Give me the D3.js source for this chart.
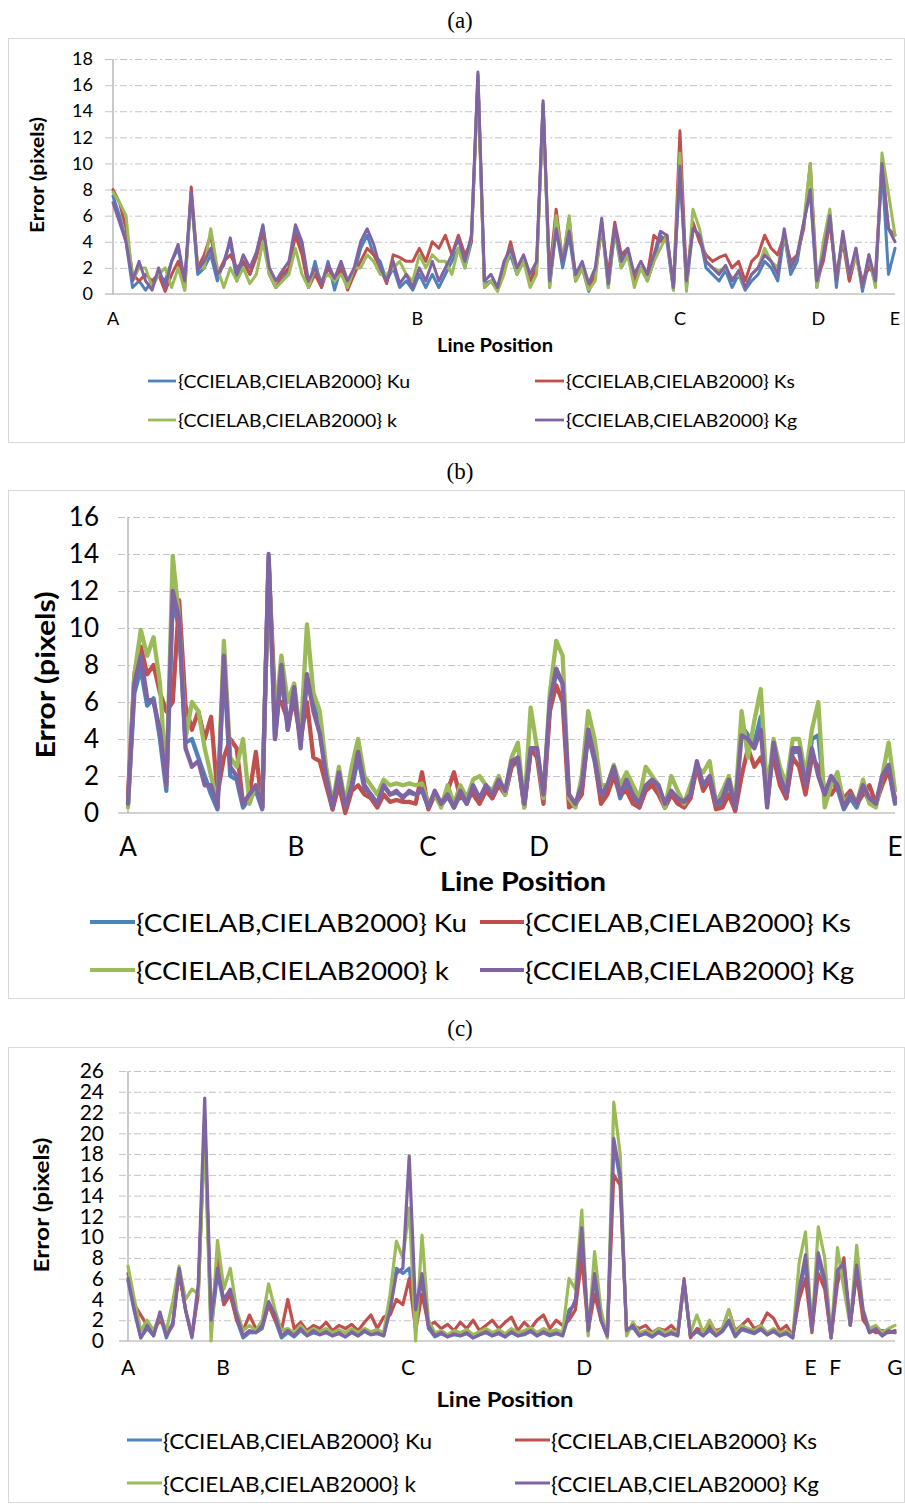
<!DOCTYPE html>
<html><head><meta charset="utf-8">
<script src="https://cdn.jsdelivr.net/npm/d3@7"></script>
<style>body{margin:0;background:#fff}svg{display:block}</style>
</head><body><svg id="chart" width="905" height="1504"></svg>
<script>
// ---------- DATA ----------
const seriesNames = ["{CCIELAB,CIELAB2000} Ku","{CCIELAB,CIELAB2000} Ks","{CCIELAB,CIELAB2000} k","{CCIELAB,CIELAB2000} Kg"];
const seriesColors = ["#4f81bd","#c0504d","#9bbb59","#8064a2"];
const yTitle = "Error (pixels)";
const xTitle = "Line Position";

// panel (a)
const aTicks = [0,2,4,6,8,10,12,14,16,18];
const aCats = ["A","B","C","D","E"];
const aCatPos = [0,38.9,72.5,90.2,100];
const aKu = [7.5,6.0,4.0,0.5,1.0,0.3,1.0,1.5,1.0,2.5,
 3.5,0.8,7.6,1.5,2.0,3.0,1.0,2.5,4.0,1.0,
 2.5,1.5,3.0,5.3,1.5,0.5,1.0,2.0,5.0,3.5,
 0.5,2.5,0.5,2.5,0.3,2.0,0.5,1.5,3.5,4.5,
 3.0,2.5,1.0,2.0,0.5,1.0,0.3,1.5,0.5,1.5,
 0.5,1.5,2.5,3.5,2.0,4.0,16.8,0.8,1.0,0.5,
 2.0,3.0,1.5,2.5,1.0,2.0,14.6,0.5,5.0,2.0,
 4.5,1.0,2.0,0.2,1.5,5.5,0.5,4.8,2.0,3.0,
 1.0,2.0,1.0,2.5,4.5,4.0,0.3,9.5,0.5,5.0,
 4.5,2.0,1.5,1.0,1.8,0.5,1.5,0.3,1.0,1.5,
 2.5,2.0,1.0,4.5,1.5,2.5,5.5,7.8,0.5,3.0,
 6.2,0.5,4.5,1.0,3.5,0.2,2.5,0.8,9.8,1.5,
 3.5];
const aKs = [8.0,7.0,5.0,1.5,1.0,1.5,1.0,1.5,0.2,1.5,
 2.5,0.3,8.2,2.0,3.0,4.5,1.5,2.5,3.0,2.0,
 2.5,1.5,2.8,4.8,1.5,0.5,1.5,2.0,4.5,3.0,
 0.5,1.5,0.5,2.0,1.0,2.0,0.3,1.5,2.5,3.5,
 3.0,2.0,0.8,3.0,2.8,2.5,2.5,3.5,2.5,4.0,
 3.5,4.5,3.0,4.5,3.0,4.0,16.5,0.5,1.0,0.3,
 2.0,4.0,2.0,2.5,1.0,2.0,14.5,1.5,6.5,2.5,
 5.8,1.0,2.0,0.5,1.5,5.0,1.5,5.5,3.0,3.5,
 1.0,2.0,1.5,4.5,4.0,4.5,0.5,12.5,1.0,5.5,
 4.0,3.0,2.5,2.8,3.0,2.0,2.5,1.0,2.5,3.0,
 4.5,3.5,3.0,4.5,2.5,3.0,5.0,10.0,1.0,2.5,
 5.5,1.5,4.0,1.0,3.0,1.0,2.0,1.5,10.0,5.0,
 4.5];
const aK = [7.8,7.0,6.0,1.0,2.0,2.0,0.5,1.5,2.0,0.5,
 2.0,0.3,7.5,2.0,2.0,5.0,2.0,0.5,2.0,1.0,
 2.0,0.8,1.5,4.0,1.5,0.5,1.0,1.5,3.5,1.5,
 0.5,2.0,1.0,1.5,1.0,1.5,0.5,2.0,2.0,3.0,
 2.5,1.5,1.5,2.0,2.5,1.5,1.0,3.0,2.0,3.0,
 2.5,2.5,1.5,3.5,2.0,4.5,16.5,0.5,1.0,0.2,
 1.5,3.5,1.5,2.5,0.5,1.5,14.5,0.5,6.0,2.5,
 6.0,1.0,2.0,0.3,1.0,5.5,0.5,5.0,2.0,3.0,
 0.5,2.0,1.0,2.5,3.5,4.5,0.3,10.8,0.2,6.5,
 5.0,2.5,2.0,1.8,2.0,1.2,1.5,0.5,1.5,2.0,
 3.5,2.5,2.0,4.5,2.0,3.0,5.5,10.0,0.5,4.0,
 6.5,1.0,4.5,1.5,3.0,0.5,3.0,0.5,10.8,7.7,
 4.5];
const aKg = [7.0,5.5,4.0,1.0,2.5,1.0,0.3,2.0,0.5,2.5,
 3.8,1.0,7.8,1.8,2.5,3.5,1.5,2.2,4.3,1.5,
 3.0,2.0,3.2,5.2,2.0,1.0,1.8,2.5,5.3,4.0,
 1.0,2.0,0.8,2.3,1.2,2.5,1.0,2.0,4.0,5.0,
 3.8,2.0,1.0,2.5,0.8,1.5,0.5,2.0,1.0,2.5,
 1.0,2.0,3.0,4.2,2.5,4.5,17.0,1.0,1.5,0.5,
 2.5,3.5,2.0,3.0,1.5,2.5,14.8,1.0,5.0,2.5,
 4.8,1.5,2.5,0.8,2.0,5.8,0.8,5.2,2.5,3.5,
 1.5,2.5,1.5,3.0,4.8,4.5,0.5,9.8,1.0,5.0,
 4.5,2.5,2.0,1.5,2.2,1.0,1.8,0.5,1.5,2.0,
 3.0,2.5,1.5,5.0,2.0,3.0,5.5,8.0,1.0,3.0,
 6.0,1.0,4.8,1.5,3.5,0.5,3.0,1.0,10.0,5.0,
 4.0];

// panel (b)
const bTicks = [0,2,4,6,8,10,12,14,16];
const bCats = ["A","B","C","D","E"];
const bCatPos = [0,21.9,39.1,53.6,100];
const bKu = [0.5,6.5,7.8,5.8,6.2,4.0,1.2,11.5,10.0,3.8,
 4.0,3.0,2.0,1.0,0.2,8.0,2.0,1.8,0.3,0.8,
 1.2,0.2,13.8,4.0,7.5,4.5,6.5,4.0,7.0,6.0,
 4.5,2.0,0.2,2.0,0.3,1.3,3.0,1.3,1.0,0.5,
 1.5,1.0,1.1,0.9,1.1,1.0,1.2,0.3,1.0,0.4,
 0.9,0.3,1.0,0.5,1.3,0.6,1.3,0.8,1.6,1.0,
 2.5,2.8,0.4,3.3,3.2,0.8,5.8,7.6,7.0,0.8,
 0.4,1.3,4.2,2.8,0.8,1.3,2.3,0.8,1.6,0.8,
 0.3,1.3,1.6,1.3,0.3,1.0,0.6,0.5,0.8,2.6,
 1.3,1.8,0.3,0.6,1.6,0.2,4.7,4.2,3.8,5.2,
 0.5,3.5,1.8,0.8,3.3,3.3,1.3,4.0,4.2,0.8,
 1.8,1.3,0.2,0.8,0.3,1.3,0.6,0.4,1.8,2.4,
 0.5];
const bKs = [1.0,7.5,9.0,7.5,8.0,6.5,5.5,6.0,11.5,5.8,
 4.5,5.5,4.0,5.2,1.0,3.0,4.0,3.5,0.5,1.0,
 3.3,0.3,13.5,6.0,6.0,5.0,6.0,4.0,6.0,3.0,
 2.8,1.5,0.2,1.5,0.0,1.2,1.5,1.0,0.8,0.3,
 1.0,0.6,0.7,0.6,0.6,0.5,2.2,0.2,1.0,0.5,
 1.2,2.2,0.8,1.0,1.0,0.5,1.2,0.8,1.5,1.0,
 2.5,3.0,0.3,3.5,3.0,0.5,5.5,6.9,6.0,0.3,
 0.5,1.0,4.5,3.0,0.5,1.0,2.0,1.0,1.2,0.5,
 0.3,1.2,1.5,1.0,0.3,1.0,0.5,0.3,0.8,2.5,
 1.2,1.8,0.2,0.3,1.0,0.1,2.0,3.5,2.5,3.0,
 2.0,3.0,1.5,0.8,3.0,2.5,1.0,3.0,2.5,1.2,
 1.0,1.5,0.8,1.2,0.5,1.0,1.5,0.5,1.5,2.3,
 0.8];
const bK = [0.3,7.5,9.9,8.5,9.5,7.0,1.5,13.9,10.5,4.0,
 6.0,5.5,3.5,2.0,0.5,9.3,3.0,2.5,4.0,0.5,
 1.5,0.5,13.5,5.0,8.5,6.0,7.0,4.0,10.2,6.5,
 5.5,2.5,0.5,2.5,0.5,2.5,4.0,2.0,1.5,1.0,
 1.8,1.5,1.6,1.5,1.6,1.5,1.6,0.5,1.0,0.3,
 1.5,0.5,1.5,0.8,1.8,2.0,1.5,1.2,2.0,1.0,
 3.0,3.8,0.3,5.7,3.5,0.8,6.5,9.3,8.5,0.8,
 0.3,2.0,5.5,4.0,1.5,1.5,2.6,1.5,2.2,1.5,
 0.8,2.5,2.0,1.5,0.3,2.0,1.2,0.5,1.5,2.5,
 2.2,2.8,0.5,1.2,2.0,0.5,5.5,3.0,5.0,6.7,
 1.0,4.0,2.5,1.5,4.0,4.0,2.0,4.5,6.0,0.3,
 1.5,2.2,0.5,1.0,0.5,1.8,0.5,0.3,2.0,3.8,
 1.2];
const bKg = [0.5,7.0,8.5,6.2,6.0,4.5,1.5,12.0,10.5,3.5,
 2.5,2.8,1.5,1.5,0.3,8.5,2.5,2.0,0.5,1.0,
 1.5,0.3,14.0,4.0,8.0,4.5,6.8,3.5,7.5,5.5,
 4.3,2.0,0.3,2.2,0.3,1.5,3.3,1.5,1.0,0.5,
 1.5,1.0,1.2,0.8,1.2,1.0,1.3,0.3,1.2,0.5,
 1.0,0.3,1.2,0.5,1.5,0.8,1.5,1.0,1.8,1.2,
 2.8,3.0,0.5,3.5,3.5,1.0,6.0,7.8,7.0,1.0,
 0.5,1.5,4.5,3.0,1.0,1.5,2.5,1.0,1.8,1.0,
 0.5,1.5,1.8,1.5,0.5,1.2,0.8,0.6,1.0,2.8,
 1.5,2.0,0.5,0.8,1.8,0.3,4.2,4.0,3.5,4.5,
 0.3,3.8,2.0,1.0,3.5,3.5,1.5,3.5,2.0,1.0,
 2.0,1.5,0.3,1.0,0.5,1.5,0.8,0.5,2.0,2.6,
 0.6];

// panel (c)
const cTicks = [0,2,4,6,8,10,12,14,16,18,20,22,24,26];
const cCats = ["A","B","C","D","E","F","G"];
const cCatPos = [0,12.4,36.5,59.5,89.0,92.2,100];
const cKu = [5.8,2.8,0.3,1.2,0.5,2.5,0.3,1.8,6.8,3.0,
 0.3,5.0,21.0,1.0,6.5,3.5,4.5,2.0,0.3,0.8,
 0.8,1.2,3.5,2.0,0.3,0.8,0.4,1.0,0.5,0.8,
 0.6,0.8,0.5,0.7,0.4,0.8,0.5,0.9,0.6,0.7,
 0.5,3.0,7.0,6.5,7.0,2.0,6.0,1.2,0.4,0.7,
 0.4,0.6,0.5,0.7,0.3,0.6,0.8,0.5,0.7,0.4,
 0.8,0.5,0.6,0.9,0.5,0.8,0.5,0.7,0.5,3.0,
 3.5,10.0,0.8,6.0,2.0,0.4,19.0,15.5,1.0,1.3,
 0.5,0.7,0.4,0.8,0.5,0.7,0.5,5.5,0.4,0.9,
 0.5,1.0,0.5,0.9,1.8,0.4,1.1,0.9,0.7,1.1,
 0.6,0.9,0.5,0.7,0.3,4.5,7.5,1.0,7.8,5.5,
 0.3,6.5,7.0,1.5,7.0,2.5,0.8,1.1,0.5,0.9,
 0.8];
const cKs = [6.5,3.5,2.5,1.5,1.0,2.0,1.0,1.5,6.5,3.0,
 0.5,4.5,21.0,1.5,8.0,3.5,4.5,2.0,1.0,2.5,
 1.2,1.5,3.5,2.0,1.0,4.0,1.2,1.8,1.0,1.5,
 1.2,1.8,1.0,1.5,1.2,1.6,1.0,1.8,2.5,1.2,
 2.3,2.5,4.0,3.5,6.0,1.0,4.5,1.5,1.8,1.2,
 1.6,1.0,1.8,1.2,2.0,1.0,1.5,2.0,1.2,1.8,
 2.3,1.0,1.8,1.2,2.0,2.5,1.2,2.0,1.5,2.0,
 3.0,8.0,1.0,4.5,2.0,0.5,16.0,15.0,1.0,1.5,
 1.2,1.5,0.8,1.2,1.0,1.5,0.8,6.0,0.3,1.2,
 1.0,1.5,1.0,1.2,3.0,1.0,1.5,2.1,1.2,1.5,
 2.7,2.2,1.0,1.5,0.5,4.0,6.0,0.8,6.5,5.0,
 0.3,5.5,8.0,1.5,6.5,2.0,1.2,0.8,1.0,0.8,
 1.0];
const cK = [7.2,4.0,1.0,2.0,1.0,2.5,1.0,3.8,7.2,4.0,
 5.0,4.5,20.0,0.0,9.7,5.0,7.0,3.0,1.0,1.5,
 1.0,2.0,5.5,3.0,1.0,1.2,0.8,1.5,0.8,1.2,
 0.9,1.2,0.8,1.1,0.8,1.2,0.8,1.2,0.9,1.1,
 0.8,4.5,9.6,8.0,12.8,0.0,10.2,2.0,0.8,1.0,
 0.6,1.0,0.8,1.1,0.6,0.9,1.2,0.8,1.1,0.7,
 1.2,0.8,1.0,1.3,0.8,1.2,0.9,1.1,0.8,6.0,
 5.0,12.6,0.5,8.6,3.0,0.3,23.0,18.0,0.5,1.8,
 0.8,1.0,0.7,1.2,0.8,1.0,0.8,5.5,0.8,2.5,
 0.8,2.0,0.8,1.2,3.0,0.8,1.5,1.2,1.0,1.5,
 0.8,1.2,0.8,1.0,0.5,7.5,10.5,1.0,11.0,8.0,
 0.3,9.0,5.0,1.5,9.2,3.0,1.2,1.5,0.8,1.2,
 1.5];
const cKg = [6.0,3.0,0.3,1.5,0.5,2.8,0.5,1.5,7.0,3.0,
 0.5,5.5,23.4,2.0,7.0,4.0,5.0,2.5,0.5,1.0,
 0.8,1.5,3.8,2.5,0.5,1.0,0.5,1.2,0.5,1.0,
 0.6,0.9,0.5,0.8,0.4,0.9,0.5,1.0,0.6,0.8,
 0.5,3.0,6.5,7.0,17.8,3.0,6.5,1.5,0.5,0.8,
 0.4,0.7,0.5,0.8,0.3,0.6,0.9,0.5,0.8,0.4,
 0.9,0.5,0.7,1.0,0.5,0.9,0.6,0.8,0.5,2.5,
 4.0,10.9,1.0,6.5,2.0,0.5,19.5,16.0,1.0,1.5,
 0.5,0.8,0.4,0.9,0.5,0.8,0.5,5.8,0.5,1.0,
 0.5,1.2,0.5,1.0,2.0,0.5,1.2,1.0,0.8,1.2,
 0.6,1.0,0.5,0.8,0.3,5.0,8.3,1.0,8.5,6.0,
 0.3,6.8,7.5,1.5,7.3,3.0,0.8,1.2,0.5,1.0,
 0.8];

// ---------- LAYOUT ----------
const FONT = "Lato, 'Open Sans', sans-serif";
const panels = [
 {title:"(a)", series:[aKu,aKs,aK,aKg], ticks:aTicks, cats:aCats, catPos:aCatPos,
  L:{titleY:20, frame:[8,38,896,404], x0:113, x1:895, yTop:59, yBot:294, gridStart:105, tickPad:12, tickFont:18,
     xLabY:318, xLabFont:18, xt:{x:495,y:345,len:116,font:18}, yt:{x:37,y:175,len:116,font:18},
     leg:{rows:[381,420], cols:[{l0:148,l1:176,tx:178},{l0:535,l1:564,tx:566}], font:17, lens:[232,229,219,231], lw:2.8},
     lw:3}},
 {title:"(b)", series:[bKu,bKs,bK,bKg], ticks:bTicks, cats:bCats, catPos:bCatPos,
  L:{titleY:471, frame:[8,490,896,508], x0:128, x1:895, yTop:517, yBot:813, gridStart:118, tickPad:19, tickFont:26,
     xLabY:846, xLabFont:26, xt:{x:523,y:880,len:166,font:27}, yt:{x:44,y:675,len:167,font:27},
     leg:{rows:[922,970], cols:[{l0:90,l1:135,tx:136},{l0:480,l1:524,tx:525}], font:25, lens:[331,326,313,329], lw:4},
     lw:4.3}},
 {title:"(c)", series:[cKu,cKs,cK,cKg], ticks:cTicks, cats:cCats, catPos:cCatPos,
  L:{titleY:1028, frame:[8,1047,896,455], x0:128, x1:895, yTop:1071, yBot:1341, gridStart:119, tickPad:15, tickFont:21,
     xLabY:1366, xLabFont:21, xt:{x:505,y:1398,len:137,font:21}, yt:{x:40,y:1205,len:135,font:21},
     leg:{rows:[1440,1483], cols:[{l0:127,l1:162,tx:163},{l0:515,l1:550,tx:551}], font:21, lens:[269,266,253,268], lw:3.2},
     lw:3.2}}
];

const svg = d3.select("#chart");
svg.append("rect").attr("width",905).attr("height",1504).attr("fill","#fff");

function drawPanel(p){
  const L = p.L;
  const g = svg.append("g");
  g.append("rect").attr("x",L.frame[0]+0.5).attr("y",L.frame[1]+0.5)
    .attr("width",L.frame[2]).attr("height",L.frame[3])
    .attr("fill","none").attr("stroke","#d9d9d9");
  svg.append("text").attr("x",460).attr("y",L.titleY).attr("text-anchor","middle")
    .attr("dominant-baseline","central")
    .style("font-family","'Liberation Serif','Times New Roman',serif").style("font-size","23px")
    .text(p.title);

  const x = d3.scaleLinear().domain([0,100]).range([L.x0,L.x1]);
  const y = d3.scaleLinear().domain([0,p.ticks[p.ticks.length-1]]).range([L.yBot,L.yTop]);

  // gridlines
  g.append("g").attr("transform",`translate(${L.gridStart},0)`)
    .call(d3.axisRight(y).tickValues(p.ticks.slice(1)).tickSize(L.x1-L.gridStart).tickFormat(""))
    .call(s=>s.select(".domain").remove())
    .call(s=>s.selectAll("line").attr("stroke","#c4c4c4").attr("stroke-dasharray","7,3,2,3"));
  // y labels
  g.append("g").attr("transform",`translate(${L.gridStart},0)`)
    .call(d3.axisLeft(y).tickValues(p.ticks).tickSize(0).tickPadding(L.tickPad))
    .call(s=>s.select(".domain").remove())
    .call(s=>s.selectAll("text").attr("fill","#000").style("font-family",FONT).style("font-size",L.tickFont+"px"));
  // axes lines
  g.append("line").attr("x1",L.x0).attr("x2",L.x0).attr("y1",y(p.ticks[p.ticks.length-1])).attr("y2",y(0))
    .attr("stroke","#a6a6a6").attr("stroke-width",1.2);
  g.append("line").attr("x1",L.gridStart).attr("x2",L.x1).attr("y1",y(0)).attr("y2",y(0))
    .attr("stroke","#a6a6a6").attr("stroke-width",1.2);

  // x category labels
  g.selectAll(".xl").data(p.cats).join("text")
    .attr("x",(d,i)=>x(p.catPos[i])).attr("y",L.xLabY)
    .attr("text-anchor","middle").attr("dominant-baseline","central")
    .style("font-family",FONT).style("font-size",L.xLabFont+"px").text(d=>d);

  // series
  p.series.forEach((arr,k)=>{
    const n = arr.length;
    const line = d3.line().x((d,i)=>x(100*i/(n-1))).y(d=>y(d));
    g.append("path").datum(arr).attr("d",line).attr("fill","none")
      .attr("stroke",seriesColors[k]).attr("stroke-width",L.lw)
      .attr("stroke-linejoin","round").attr("stroke-linecap","round");
  });

  // axis titles
  g.append("text").attr("x",L.xt.x).attr("y",L.xt.y).attr("text-anchor","middle").attr("dominant-baseline","central")
    .attr("textLength",L.xt.len).attr("lengthAdjust","spacingAndGlyphs")
    .style("font-family",FONT).style("font-weight","bold").style("font-size",L.xt.font+"px").text(xTitle);
  g.append("text").attr("transform",`translate(${L.yt.x},${L.yt.y}) rotate(-90)`)
    .attr("text-anchor","middle").attr("dominant-baseline","central")
    .attr("textLength",L.yt.len).attr("lengthAdjust","spacingAndGlyphs")
    .style("font-family",FONT).style("font-weight","bold").style("font-size",L.yt.font+"px").text(yTitle);

  // legend
  seriesNames.forEach((name,j)=>{
    const r = L.leg.rows[j>>1], c = L.leg.cols[j&1];
    g.append("line").attr("x1",c.l0).attr("x2",c.l1).attr("y1",r).attr("y2",r)
      .attr("stroke",seriesColors[j]).attr("stroke-width",L.leg.lw);
    g.append("text").attr("x",c.tx).attr("y",r).attr("dominant-baseline","central")
      .attr("textLength",L.leg.lens[j]).attr("lengthAdjust","spacingAndGlyphs")
      .style("font-family",FONT).style("font-size",L.leg.font+"px").text(name);
  });
}
panels.forEach(drawPanel);
</script></body></html>
